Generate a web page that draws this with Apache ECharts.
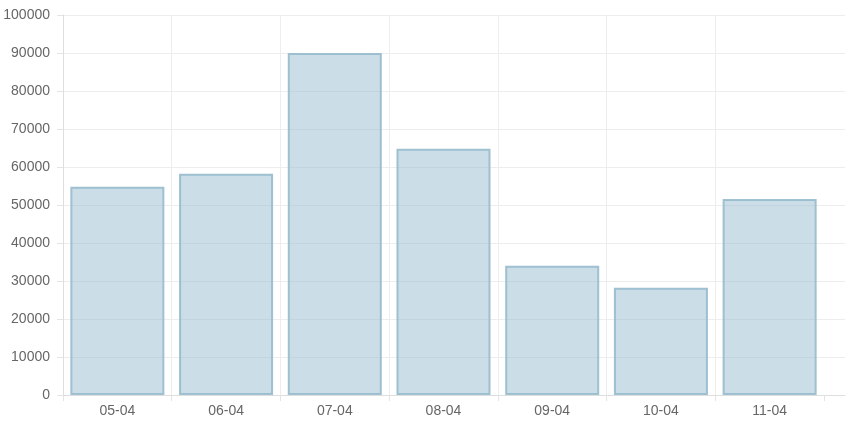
<!DOCTYPE html>
<html>
<head>
<meta charset="utf-8">
<script src="https://cdn.jsdelivr.net/npm/echarts@6/dist/echarts.min.js"></script>
<style>
  html, body { margin: 0; padding: 0; background: #fff; }
  #chart { width: 846px; height: 422px; }
</style>
</head>
<body>
<div id="chart"></div>
<script>
const categories = ['05-04', '06-04', '07-04', '08-04', '09-04', '10-04', '11-04']
const values = [54800, 58200, 90000, 64800, 34000, 28200, 51600]
const yTicks = { min: 0, max: 100000, step: 10000 }

const myChart = echarts.init(document.getElementById('chart'))

const gridColor = '#ededed'

myChart.setOption({
  animation: false,
  textStyle: { fontFamily: 'Liberation Sans, Arial, sans-serif' },
  grid: [
    // bars
    { left: 63, right: 22, top: 15, bottom: 27 },
    // background lines run to the right edge
    { left: 63, right: 1, top: 15, bottom: 27 }
  ],
  xAxis: [
    {
      type: 'category',
      gridIndex: 0,
      data: categories,
      axisLine: { show: false },
      axisTick: { show: true, length: 6, lineStyle: { color: '#e4e4e4' } },
      axisLabel: { color: '#666', fontSize: 14, margin: 9 },
      splitLine: { show: true, showMaxLine: false, lineStyle: { color: gridColor } }
    },
    {
      type: 'value',
      gridIndex: 1,
      min: 0,
      max: 1,
      axisLine: { show: true, lineStyle: { color: '#dedede' } },
      axisTick: { show: false },
      axisLabel: { show: false },
      splitLine: { show: false }
    }
  ],
  yAxis: [
    {
      type: 'value',
      gridIndex: 0,
      min: yTicks.min,
      max: yTicks.max,
      interval: yTicks.step,
      axisLine: { show: true, lineStyle: { color: '#dedede' } },
      axisTick: { show: true, length: 6, lineStyle: { color: '#e4e4e4' } },
      axisLabel: { color: '#666', fontSize: 14, margin: 13, formatter: v => String(v) },
      splitLine: { show: false }
    },
    {
      type: 'value',
      gridIndex: 1,
      min: yTicks.min,
      max: yTicks.max,
      interval: yTicks.step,
      axisLine: { show: false },
      axisTick: { show: false },
      axisLabel: { show: false },
      splitLine: { show: true, lineStyle: { color: gridColor } }
    }
  ],
  series: [
    {
      type: 'bar',
      xAxisIndex: 0,
      yAxisIndex: 0,
      data: values,
      barWidth: '86.5%',
      itemStyle: {
        color: 'rgba(151,187,205,0.5)',
        borderColor: 'rgba(151,187,205,0.9)',
        borderWidth: 2
      }
    }
  ]
})
</script>
</body>
</html>
